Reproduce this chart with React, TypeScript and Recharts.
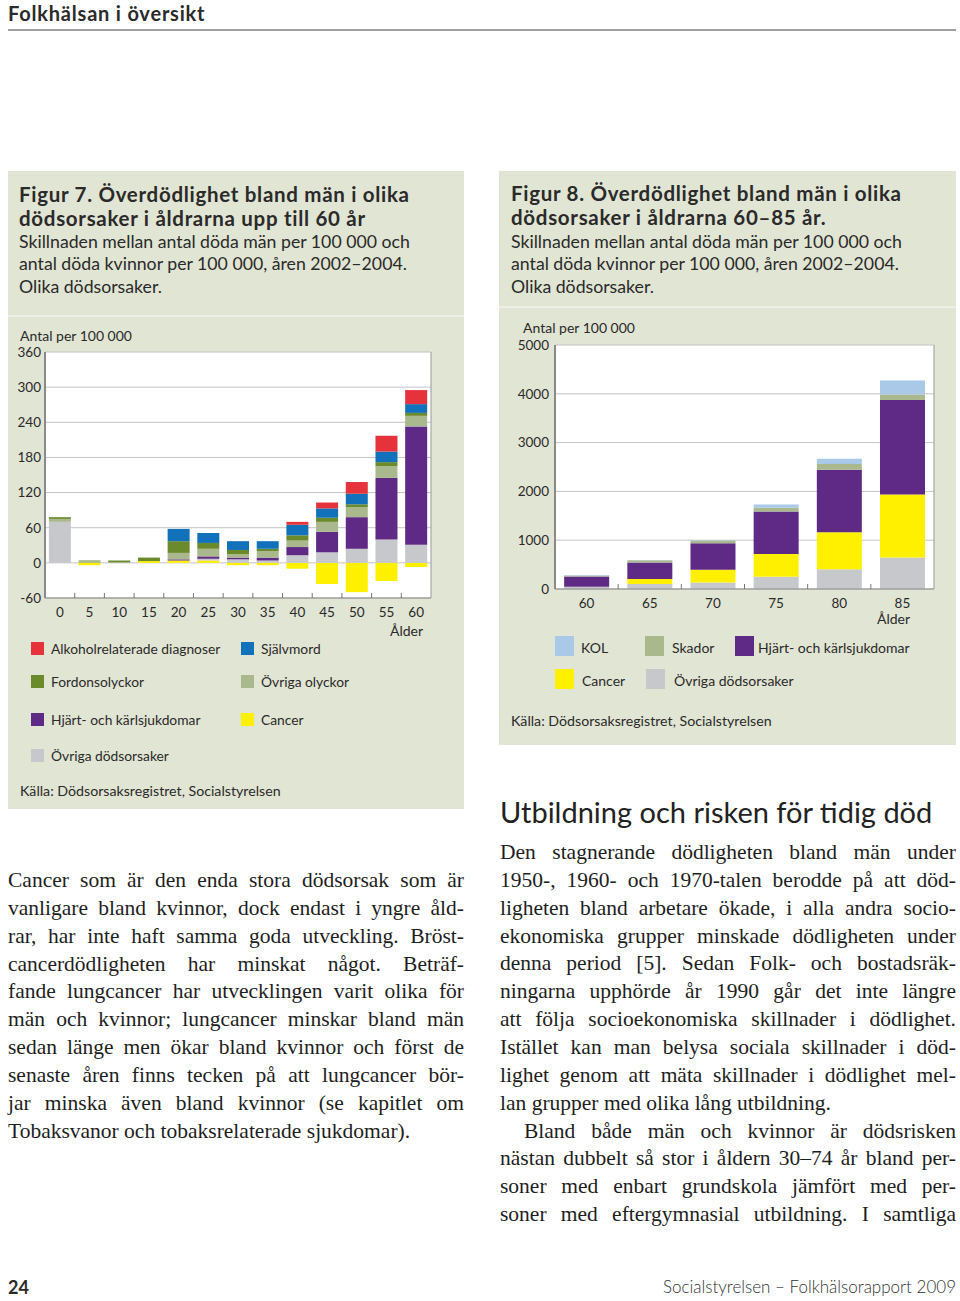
import React from "react";
import { Bar, BarChart, CartesianGrid, XAxis, YAxis } from "recharts";

// Figur 7: ages up to 60, difference men - women per 100 000
const ages7 = ["0", "5", "10", "15", "20", "25", "30", "35", "40", "45", "50", "55", "60"];
const cancer7 = [0, -4, 0, 3, 4, 4, -4, -4, -10, -36, -50, -31, -7];
const ovrigaDod7 = [70, 0, 0, 0, 0, 3, 6, 4, 13, 18, 24, 40, 31];
const hjart7 = [0, 0, 0, 0, 2, 4, 3, 5, 14, 35, 54, 105, 202];
const ovrigaOlyckor7 = [5, 3, 1, 0, 11, 13, 6, 11, 11, 17, 17, 20, 18];
const fordon7 = [3, 1, 3, 6, 20, 10, 7, 4, 9, 7, 5, 7, 5];
const sjalvmord7 = [0, 0, 0, 0, 21, 17, 15, 13, 18, 16, 18, 18, 15];
const alkohol7 = [0, 0, 0, 0, 0, 0, 0, 0, 5, 10, 20, 27, 24];
const yTicks7 = [-60, 0, 60, 120, 180, 240, 300, 360];

// Figur 8: ages 60-85
const ages8 = ["60", "65", "70", "75", "80", "85"];
const ovrigaDod8 = [40, 100, 135, 253, 404, 644];
const cancer8 = [5, 105, 260, 466, 760, 1295];
const hjart8 = [210, 340, 540, 870, 1281, 1932];
const skador8 = [20, 45, 55, 75, 116, 116];
const kol8 = [10, 5, 10, 68, 110, 288];
const yTicks8 = [0, 1000, 2000, 3000, 4000, 5000];

const C = {
  alkohol: "#e5323b",
  sjalvmord: "#1172bb",
  fordon: "#6b8a2b",
  olyckor: "#aab98d",
  hjart: "#5f2a86",
  cancer: "#fff000",
  ovriga: "#c6c8cb",
  kol: "#aac8e8",
};

const series7 = [
  { key: "cancer", name: "Cancer", color: C.cancer, values: cancer7 },
  { key: "ovriga", name: "Övriga dödsorsaker", color: C.ovriga, values: ovrigaDod7 },
  { key: "hjart", name: "Hjärt- och kärlsjukdomar", color: C.hjart, values: hjart7 },
  { key: "olyckor", name: "Övriga olyckor", color: C.olyckor, values: ovrigaOlyckor7 },
  { key: "fordon", name: "Fordonsolyckor", color: C.fordon, values: fordon7 },
  { key: "sjalvmord", name: "Självmord", color: C.sjalvmord, values: sjalvmord7 },
  { key: "alkohol", name: "Alkoholrelaterade diagnoser", color: C.alkohol, values: alkohol7 },
];

const series8 = [
  { key: "ovriga", name: "Övriga dödsorsaker", color: C.ovriga, values: ovrigaDod8 },
  { key: "cancer", name: "Cancer", color: C.cancer, values: cancer8 },
  { key: "hjart", name: "Hjärt- och kärlsjukdomar", color: C.hjart, values: hjart8 },
  { key: "skador", name: "Skador", color: C.olyckor, values: skador8 },
  { key: "kol", name: "KOL", color: C.kol, values: kol8 },
];

const data7 = ages7.map((age, i) => {
  const row: Record<string, string | number> = { age };
  series7.forEach((s) => (row[s.key] = s.values[i]));
  return row;
});
const data8 = ages8.map((age, i) => {
  const row: Record<string, string | number> = { age };
  series8.forEach((s) => (row[s.key] = s.values[i]));
  return row;
});

const SANS = "Lato, 'Open Sans', sans-serif";
const SERIF = "'Liberation Serif', 'DejaVu Serif', serif";
const PANEL = "#e1e5d4";
const TEXT = "#2a2a2a";

function BandTick(props: any) {
  const { x, y, payload, index, band } = props;
  return (
    <g>
      <text x={x} y={y + 14} textAnchor="middle" dominantBaseline="central" fontSize={13.5} fill={TEXT} fontFamily={SANS}>
        {payload.value}
      </text>
      {index > 0 && <line x1={x - band / 2} x2={x - band / 2} y1={y} y2={y - 5} stroke="#777" />}
    </g>
  );
}

function Txt({ x, y, size, children, weight = 400, family = SANS, color = TEXT, lh, ls = 0 }: any) {
  const h = lh ?? Math.round(size * 1.2);
  return (
    <div
      style={{
        position: "absolute",
        left: x,
        top: y - h / 2,
        height: h,
        lineHeight: `${h}px`,
        fontSize: size,
        fontWeight: weight,
        fontFamily: family,
        letterSpacing: ls,
        color,
        whiteSpace: "nowrap",
      }}
    >
      {children}
    </div>
  );
}

function JLine({ x, y, w, text, last, indent = 0 }: any) {
  return (
    <div
      style={{
        position: "absolute",
        left: x + indent,
        top: y - 14,
        width: w - indent,
        height: 28,
        lineHeight: "28px",
        fontSize: 21.5,
        fontFamily: SERIF,
        color: "#1e1e1e",
        textAlign: last ? "left" : "justify",
        textAlignLast: last ? "left" : "justify",
        whiteSpace: "nowrap",
      } as React.CSSProperties}
    >
      {text}
    </div>
  );
}

function Swatch({ x, y, w, h, color }: any) {
  return <div style={{ position: "absolute", left: x, top: y - h / 2, width: w, height: h, background: color }} />;
}

const leftLines = [
  "Cancer som är den enda stora dödsorsak som är",
  "vanligare bland kvinnor, dock endast i yngre åld-",
  "rar, har inte haft samma goda utveckling. Bröst-",
  "cancerdödligheten har minskat något. Beträf-",
  "fande lungcancer har utvecklingen varit olika för",
  "män och kvinnor; lungcancer minskar bland män",
  "sedan länge men ökar bland kvinnor och först de",
  "senaste åren finns tecken på att lungcancer bör-",
  "jar minska även bland kvinnor (se kapitlet om",
  "Tobaksvanor och tobaksrelaterade sjukdomar).",
];

const rightLines = [
  "Den stagnerande dödligheten bland män under",
  "1950-, 1960- och 1970-talen berodde på att död-",
  "ligheten bland arbetare ökade, i alla andra socio-",
  "ekonomiska grupper minskade dödligheten under",
  "denna period [5]. Sedan Folk- och bostadsräk-",
  "ningarna upphörde år 1990 går det inte längre",
  "att följa socioekonomiska skillnader i dödlighet.",
  "Istället kan man belysa sociala skillnader i död-",
  "lighet genom att mäta skillnader i dödlighet mel-",
  "lan grupper med olika lång utbildning.",
  "Bland både män och kvinnor är dödsrisken",
  "nästan dubbelt så stor i åldern 30–74 år bland per-",
  "soner med enbart grundskola jämfört med per-",
  "soner med eftergymnasial utbildning. I samtliga",
];

export default function App() {
  const band7 = 386 / ages7.length;
  const band8 = 379 / ages8.length;
  const tickStyle = { fontSize: 13.5, fill: TEXT, fontFamily: SANS };

  const legend7 = [
    { s: series7[6], x: 31, y: 648 },
    { s: series7[5], x: 241, y: 648 },
    { s: series7[4], x: 31, y: 681 },
    { s: series7[3], x: 241, y: 681 },
    { s: series7[2], x: 31, y: 719 },
    { s: series7[0], x: 241, y: 719 },
    { s: series7[1], x: 31, y: 755 },
  ];
  const legend8 = [
    { s: series8[4], x: 555, y: 646, lx: 581 },
    { s: series8[3], x: 645, y: 646, lx: 672 },
    { s: series8[2], x: 735, y: 646, lx: 758 },
    { s: series8[1], x: 555, y: 679, lx: 582 },
    { s: series8[0], x: 646, y: 679, lx: 674 },
  ];

  return (
    <div style={{ position: "absolute", left: 0, top: 0, width: 960, height: 1301, background: "#fff", overflow: "hidden" }}>
      {/* header */}
      <Txt x={8} y={13} size={20} weight={700} lh={22} ls={0.8}>Folkhälsan i översikt</Txt>
      <div style={{ position: "absolute", left: 8, top: 29, width: 948, height: 2, background: "#a0a0a0" }} />

      {/* panel 7 */}
      <div style={{ position: "absolute", left: 8, top: 171, width: 456, height: 638, background: PANEL }} />
      <div style={{ position: "absolute", left: 8, top: 315, width: 456, height: 2, background: "#eef0e6" }} />
      <Txt x={19} y={194} size={20.5} weight={700} lh={24} ls={0.7}>Figur 7. Överdödlighet bland män i olika</Txt>
      <Txt x={19} y={218} size={20.5} weight={700} lh={24} ls={0.7}>dödsorsaker i åldrarna upp till 60 år</Txt>
      <Txt x={19} y={242} size={17.7} lh={22}>Skillnaden mellan antal döda män per 100 000 och</Txt>
      <Txt x={19} y={264} size={17.7} lh={22}>antal döda kvinnor per 100 000, åren 2002–2004.</Txt>
      <Txt x={19} y={287} size={17.7} lh={22}>Olika dödsorsaker.</Txt>
      <Txt x={20} y={335} size={14}>Antal per 100 000</Txt>

      <div style={{ position: "absolute", left: 8, top: 340, width: 440, height: 290 }}>
        <BarChart
          width={440}
          height={290}
          data={data7}
          stackOffset="sign"
          barCategoryGap="13%"
          margin={{ top: 12, right: 16, bottom: 10, left: 0 }}
        >
          <CartesianGrid vertical={false} stroke="#c4c4c4" fill="#fff" />
          <XAxis
            dataKey="age"
            height={22}
            tickSize={0}
            tickMargin={0}
            tickLine={false}
            axisLine={{ stroke: "#8a8a8a" }}
            interval={0}
            tick={<BandTick band={band7} />}
          />
          <YAxis
            width={37}
            domain={[-60, 360]}
            ticks={yTicks7}
            interval={0}
            tickSize={0}
            tickMargin={4}
            tick={tickStyle}
            axisLine={{ stroke: "#8a8a8a", strokeWidth: 2 }}
          />
          <YAxis yAxisId="r" orientation="right" width={1} tick={false} tickLine={false} axisLine={{ stroke: "#9a9a9a" }} />
          {series7.map((s) => (
            <Bar key={s.key} dataKey={s.key} name={s.name} stackId="a" fill={s.color} isAnimationActive={false} />
          ))}
        </BarChart>
      </div>
      <Txt x={390} y={630} size={14}>Ålder</Txt>

      {legend7.map(({ s, x, y }) => (
        <React.Fragment key={s.key}>
          <Swatch x={x} y={y} w={13} h={13} color={s.color} />
          <Txt x={x + 20} y={y} size={13.8}>{s.name}</Txt>
        </React.Fragment>
      ))}
      <Txt x={20} y={790} size={14.2}>Källa: Dödsorsaksregistret, Socialstyrelsen</Txt>

      {/* panel 8 */}
      <div style={{ position: "absolute", left: 499, top: 171, width: 457, height: 574, background: PANEL }} />
      <div style={{ position: "absolute", left: 499, top: 306, width: 457, height: 2, background: "#eef0e6" }} />
      <Txt x={511} y={193} size={20.5} weight={700} lh={24} ls={0.7}>Figur 8. Överdödlighet bland män i olika</Txt>
      <Txt x={511} y={217} size={20.5} weight={700} lh={24} ls={0.7}>dödsorsaker i åldrarna 60–85 år.</Txt>
      <Txt x={511} y={242} size={17.7} lh={22}>Skillnaden mellan antal döda män per 100 000 och</Txt>
      <Txt x={511} y={264} size={17.7} lh={22}>antal döda kvinnor per 100 000, åren 2002–2004.</Txt>
      <Txt x={511} y={287} size={17.7} lh={22}>Olika dödsorsaker.</Txt>
      <Txt x={523} y={327} size={14}>Antal per 100 000</Txt>

      <div style={{ position: "absolute", left: 499, top: 335, width: 450, height: 290 }}>
        <BarChart
          width={450}
          height={290}
          data={data8}
          barCategoryGap="14.5%"
          margin={{ top: 10, right: 14, bottom: 12, left: 0 }}
        >
          <CartesianGrid vertical={false} stroke="#c4c4c4" fill="#fff" />
          <XAxis
            dataKey="age"
            height={24}
            tickSize={0}
            tickMargin={0}
            tickLine={false}
            axisLine={{ stroke: "#8a8a8a" }}
            interval={0}
            tick={<BandTick band={band8} />}
          />
          <YAxis
            width={56}
            domain={[0, 5000]}
            ticks={yTicks8}
            interval={0}
            tickSize={0}
            tickMargin={6}
            tick={tickStyle}
            axisLine={{ stroke: "#8a8a8a", strokeWidth: 2 }}
          />
          <YAxis yAxisId="r" orientation="right" width={1} tick={false} tickLine={false} axisLine={{ stroke: "#9a9a9a" }} />
          {series8.map((s) => (
            <Bar key={s.key} dataKey={s.key} name={s.name} stackId="a" fill={s.color} isAnimationActive={false} />
          ))}
        </BarChart>
      </div>
      <Txt x={877} y={618} size={14}>Ålder</Txt>

      {legend8.map(({ s, x, y, lx }) => (
        <React.Fragment key={s.key}>
          <Swatch x={x} y={y} w={19} h={20} color={s.color} />
          <Txt x={lx} y={y + 1} size={14}>{s.name}</Txt>
        </React.Fragment>
      ))}
      <Txt x={511} y={720} size={14.2}>Källa: Dödsorsaksregistret, Socialstyrelsen</Txt>

      {/* body text */}
      {leftLines.map((t, i) => (
        <JLine key={i} x={8} y={880 + i * 27.85} w={456} text={t} last={i === leftLines.length - 1} />
      ))}
      <Txt x={500} y={812} size={29} color="#222" lh={34}>Utbildning och risken för tidig död</Txt>
      {rightLines.map((t, i) => (
        <JLine key={i} x={500} y={852 + i * 27.85} w={456} text={t} last={i === 9} indent={i === 10 ? 24 : 0} />
      ))}

      {/* footer */}
      <Txt x={8} y={1287} size={18} weight={700}>24</Txt>
      <div
        style={{
          position: "absolute",
          right: 4,
          top: 1276,
          fontSize: 17,
          lineHeight: "22px",
          fontFamily: SANS,
          fontWeight: 300,
          color: "#333",
          whiteSpace: "nowrap",
        }}
      >
        Socialstyrelsen – Folkhälsorapport 2009
      </div>
    </div>
  );
}
